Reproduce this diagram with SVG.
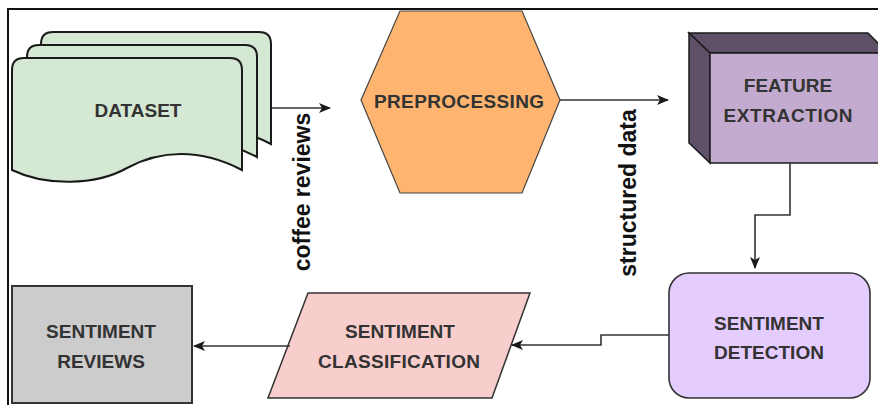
<svg xmlns="http://www.w3.org/2000/svg" width="878" height="405" viewBox="0 0 878 405">
  <defs>
    <marker id="arr" viewBox="0 0 12 10" refX="11" refY="5" markerWidth="12" markerHeight="10" markerUnits="userSpaceOnUse" orient="auto">
      <path d="M0,0 L12,5 L0,10 L3,5 Z" fill="#1a1a1a"/>
    </marker>
    <path id="doc" d="M12,70 Q12,58 24,58 H230 Q242,58 242,70 V170 C200,148 160,150 127,168 C95,186 45,186 12,170 Z"/>
  </defs>
  <style>
    .t { font-family: "Liberation Sans", Arial, sans-serif; font-weight: bold; font-size: 19px; fill: #333; text-anchor: middle; }
    .lbl { font-family: "Liberation Sans", Arial, sans-serif; font-weight: bold; font-size: 23px; fill: #111; text-anchor: middle; }
    .edge { fill: none; stroke: #333; stroke-width: 1.6; marker-end: url(#arr); }
  </style>
  <rect width="878" height="405" fill="#fff"/>
  <path d="M8,405 V9 H878" fill="none" stroke="#111" stroke-width="2"/>

  <g id="dataset">
    <use href="#doc" transform="translate(29,-26)" fill="#D5E8D4" stroke="#1a1a1a" stroke-width="2"/>
    <use href="#doc" transform="translate(15,-13)" fill="#D5E8D4" stroke="#1a1a1a" stroke-width="2"/>
    <use href="#doc" fill="#D5E8D4" stroke="#1a1a1a" stroke-width="2"/>
    <text class="t" x="138" y="117">DATASET</text>
  </g>

  <g id="preprocessing">
    <polygon points="400,11 522,11 560,100 522,193 400,193 361,100" fill="#FFB570" stroke="#444" stroke-width="1.2"/>
    <text class="t" x="459" y="108" textLength="170">PREPROCESSING</text>
  </g>

  <g id="feature-extraction">
    <polygon points="689,33 868,33 888,53 710,53" fill="#5E5066" stroke="#1a1a1a" stroke-width="1.5"/>
    <polygon points="689,33 710,53 710,163 689,143" fill="#5E5066" stroke="#1a1a1a" stroke-width="1.5"/>
    <rect x="710" y="53" width="180" height="110" fill="#C3ABD0" stroke="#1a1a1a" stroke-width="1.5"/>
    <text class="t" x="788" y="92">FEATURE</text>
    <text class="t" x="788" y="122" textLength="129">EXTRACTION</text>
  </g>

  <g id="sentiment-detection">
    <rect x="669" y="273" width="201" height="125" rx="20" ry="20" fill="#E5CCFF" stroke="#333" stroke-width="1.6"/>
    <text class="t" x="769" y="330">SENTIMENT</text>
    <text class="t" x="769" y="359">DETECTION</text>
  </g>

  <g id="sentiment-classification">
    <polygon points="308,293 530,293 492,398 268,398" fill="#F8CECC" stroke="#333" stroke-width="1.5"/>
    <text class="t" x="400" y="338">SENTIMENT</text>
    <text class="t" x="399" y="368" textLength="162">CLASSIFICATION</text>
  </g>

  <g id="sentiment-reviews">
    <rect x="12" y="286" width="180" height="117" fill="#CCCCCC" stroke="#333" stroke-width="2"/>
    <text class="t" x="101" y="338">SENTIMENT</text>
    <text class="t" x="101" y="368">REVIEWS</text>
  </g>

  <g id="connectors">
    <path class="edge" d="M272,108 H330"/>
    <path class="edge" d="M560,100 H668"/>
    <path class="edge" d="M790,163 V215 H755 V268"/>
    <path class="edge" d="M669,335 H601 V345 H512"/>
    <path class="edge" d="M290,346 H194"/>
    <text class="lbl" transform="translate(310,192) rotate(-90)">coffee reviews</text>
    <text class="lbl" transform="translate(636,193) rotate(-90)">structured data</text>
  </g>
</svg>
